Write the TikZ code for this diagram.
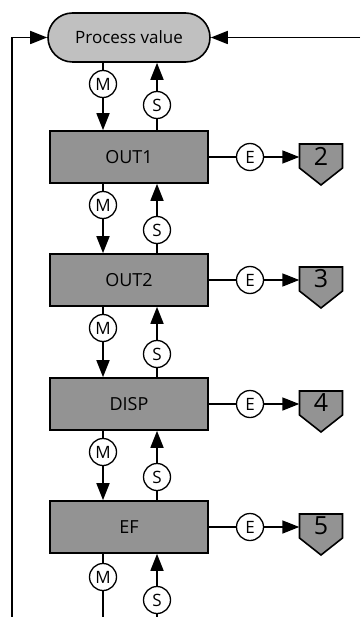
\documentclass[tikz,border=0pt]{standalone}
\usepackage{fontspec}
\setmainfont{Open Sans}
\usetikzlibrary{arrows.meta,shapes.misc,calc}
\definecolor{boxgray}{HTML}{939393}
\definecolor{pvgray}{HTML}{C0C0C0}
\begin{document}
\begin{tikzpicture}[x=1pt,y=-1pt,
  every node/.style={inner sep=0pt},
  line/.style={line width=1.6pt},
  arr/.style={line width=1.6pt,-{Triangle[length=17pt,width=13pt]}},
  box/.style={draw,line width=1.6pt,fill=boxgray,minimum width=158pt,minimum height=52pt,font=\fontsize{18}{20}\selectfont},
  pv/.style={rounded rectangle,draw,line width=1.6pt,fill=pvgray,minimum width=162pt,minimum height=49pt,font=\fontsize{17}{19}\selectfont},
  circ/.style={circle,draw,line width=1.3pt,fill=white,minimum size=27pt,font=\fontsize{17}{19}\selectfont},
  shieldnum/.style={minimum width=43pt,minimum height=24pt,font=\fontsize{25}{27}\selectfont},
  shield/.style={draw,line width=1.6pt,fill=boxgray,line join=miter}
]
\useasboundingbox (0,0) rectangle (360,617);

\node[pv] (pv) at (129,37.5) {Process value};
\node[box] (b1) at (129,157) {OUT1};
\node[box] (b2) at (129,280) {OUT2};
\node[box] (b3) at (129,404) {DISP};
\node[box] (b4) at (129,527) {EF};

% M / S circles between blocks
\node[circ] (m1) at (103,84) {M};
\node[circ] (s1) at (157,105) {S};
\node[circ] (m2) at (103,205) {M};
\node[circ] (s2) at (157,230) {S};
\node[circ] (m3) at (103,328) {M};
\node[circ] (s3) at (157,354) {S};
\node[circ] (m4) at (103,452) {M};
\node[circ] (s4) at (157,477) {S};
\node[circ] (m5) at (103,577) {M};
\node[circ] (s5) at (157,600) {S};

% M connectors (down)
\draw[line] (pv.south -| m1) -- (m1);
\draw[arr] (m1) -- (b1.north -| m1);
\draw[line] (b1.south -| m2) -- (m2);
\draw[arr] (m2) -- (b2.north -| m2);
\draw[line] (b2.south -| m3) -- (m3);
\draw[arr] (m3) -- (b3.north -| m3);
\draw[line] (b3.south -| m4) -- (m4);
\draw[arr] (m4) -- (b4.north -| m4);
\draw[line] (b4.south -| m5) -- (m5);
\coordinate (mend) at (103,617);
\draw[line] (m5) -- (mend);

% S connectors (up)
\draw[line] (b1.north -| s1) -- (s1);
\draw[arr] (s1) -- (pv.south -| s1);
\draw[line] (b2.north -| s2) -- (s2);
\draw[arr] (s2) -- (b1.south -| s2);
\draw[line] (b3.north -| s3) -- (s3);
\draw[arr] (s3) -- (b2.south -| s3);
\draw[line] (b4.north -| s4) -- (s4);
\draw[arr] (s4) -- (b3.south -| s4);
\coordinate (send) at (157,617);
\draw[line] (send) -- (s5);
\draw[arr] (s5) -- (b4.south -| s5);

% feedback lines
\coordinate (lb) at (12,617);
\coordinate (lt) at (12,37.5);
\draw[arr] (lb) -- (lt) -- (pv.west);
\coordinate (rt) at (360,37.5);
\draw[arr] (rt) -- (pv.east);

% E outputs and shields
\foreach \b/\n/\y in {b1/2/157,b2/3/280,b3/4/404,b4/5/527}{
  \coordinate (c\n) at (321,\y-1);
  \draw[shield] ($(c\n)+(-21.5,-12)$) -- ($(c\n)+(21.5,-12)$) -- ($(c\n)+(21.5,12)$)
     -- ($(c\n)+(0,29)$) -- ($(c\n)+(-21.5,12)$) -- cycle;
  \node[shieldnum] (p\n) at (c\n) {\n};
  \node[circ] (e\n) at (250,\y) {E};
  \draw[line] (\b.east) -- (e\n);
  \draw[arr] (e\n) -- (p\n.west |- e\n);
}
\end{tikzpicture}
\end{document}
